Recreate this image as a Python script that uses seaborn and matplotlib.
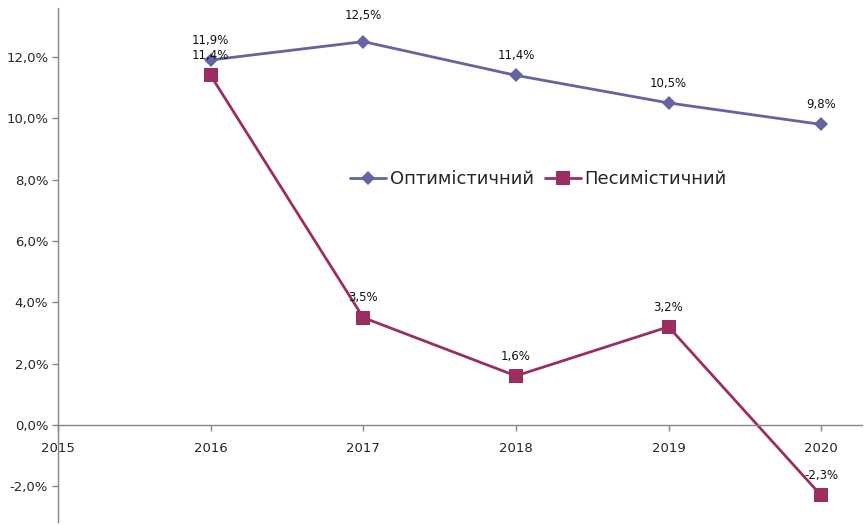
import numpy as np
import pandas as pd
import matplotlib
matplotlib.use("Agg")
import matplotlib.pyplot as plt
import matplotlib.ticker as mticker
import seaborn as sns

# data (percent)
years = [2016, 2017, 2018, 2019, 2020]
optimistic = [11.9, 12.5, 11.4, 10.5, 9.8]
pessimistic = [11.4, 3.5, 1.6, 3.2, -2.3]
names = ["Оптимістичний", "Песимістичний"]
colors = ["#6464A0", "#9B2D62"]

df = pd.DataFrame({
    "year": years * 2,
    "value": optimistic + pessimistic,
    "scenario": [names[0]] * len(years) + [names[1]] * len(years),
})

sns.set_style("white")
plt.rcParams["font.family"] = ["DejaVu Sans"]

fig = plt.figure(figsize=(8.65, 5.25), dpi=100)
ax = fig.add_axes([0.067, 0.006, 0.93, 0.979])

sns.lineplot(data=df, x="year", y="value", hue="scenario", style="scenario",
             palette=dict(zip(names, colors)),
             markers={names[0]: "D", names[1]: "s"}, dashes=False,
             linewidth=2, markeredgewidth=0, ax=ax)
for line, ms in zip(ax.get_lines()[:2], [7, 9.5]):
    line.set_markersize(ms)

# data labels
fmt = lambda v: f"{v:.1f}%".replace(".", ",")
for vals in [optimistic, pessimistic]:
    for x, v in zip(years, vals):
        off = 14 if (x == 2017 and v == 12.5) else 9.5
        ax.annotate(fmt(v), (x, v), xytext=(0, off), textcoords="offset points",
                    ha="center", va="bottom", fontsize=8.5, color="#111111")

ax.set_xlim(2015, 2020.27)
ax.set_ylim(-3.16, 13.6)
ax.set_xticks(range(2015, 2021))
ax.set_yticks(np.arange(-2, 13, 2))
ax.yaxis.set_major_formatter(mticker.FuncFormatter(lambda v, p: fmt(v)))
ax.xaxis.set_major_formatter(mticker.FuncFormatter(lambda v, p: f"{int(v)}"))

for s in ["top", "right"]:
    ax.spines[s].set_visible(False)
ax.spines["bottom"].set_position(("data", 0))
for s in ["left", "bottom"]:
    ax.spines[s].set_color("#868686")
    ax.spines[s].set_linewidth(1)
ax.tick_params(axis="x", length=4, width=1, color="#868686", pad=8, labelsize=9.5, direction="out", bottom=True)
ax.tick_params(axis="y", length=4, width=1, color="#868686", pad=3, labelsize=9.5, direction="out", left=True)
ax.set_xlabel("")
ax.set_ylabel("")

leg = ax.legend(loc="center left", bbox_to_anchor=(0.343, 0.667), frameon=False,
                fontsize=13, ncol=2, handlelength=2.0, columnspacing=0.6, handletextpad=0.2)
for h, ms in zip(leg.legend_handles, [7, 9.5]):
    h.set_markersize(ms)

fig.savefig("out.png", dpi=100)
